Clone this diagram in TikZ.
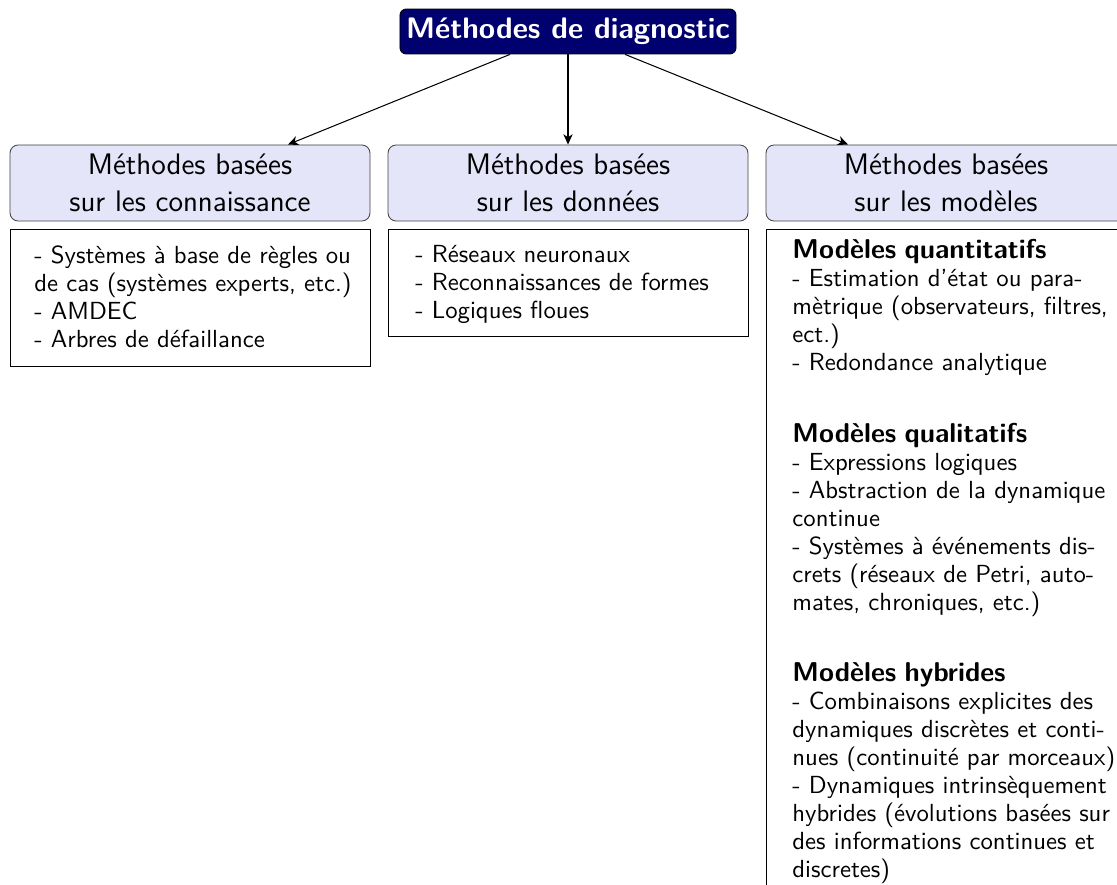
\documentclass[tikz,border=0pt]{standalone}
\usepackage{fontspec}
\newfontfamily\bodysf{lmsans10-regular}[Extension=.otf, BoldFont=lmsans10-bold]
\usetikzlibrary{arrows.meta,calc}
\definecolor{titleblue}{RGB}{0,0,110}
\definecolor{headfill}{RGB}{229,229,250}
\newcommand{\subhead}[1]{{\fontsize{13.2}{13.6}\selectfont\bfseries #1}}
\begin{document}
\begin{tikzpicture}[x=0.485pt,y=-0.485pt,
  titlebox/.style={draw=black, fill=titleblue, rounded corners=3pt, text=white,
    font={\sffamily\bfseries\fontsize{14.4}{18}\selectfont},
    minimum width=163pt, minimum height=21.8pt, inner sep=0pt},
  headbox/.style={draw=black!75, fill=headfill, rounded corners=4pt,
    minimum width=174.6pt, minimum height=36.9pt, inner sep=0pt, align=center,
    font={\sffamily\fontsize{14.4}{18}\selectfont}},
  bodybox/.style={draw=black, minimum width=174.6pt, inner sep=0pt, anchor=north west},
  bodytext/.style={anchor=north west, inner sep=0pt, text width=170pt, align=left,
    font={\bodysf\fontsize{12}{13.6}\selectfont}},
  link/.style={-{Stealth[length=5pt,width=4.5pt,inset=1.5pt]}, line width=0.5pt}
]
\useasboundingbox (0,0) rectangle (1117,885);
\clip (0,0) rectangle (1117,885);

\node[titlebox] (title) at (568,31.5) {Méthodes de diagnostic};

\node[headbox] (h1) at (190,183) {Méthodes basées\\sur les connaissance};
\node[headbox] (h2) at (568,183) {Méthodes basées\\sur les données};
\node[headbox] (h3) at (946,183) {Méthodes basées\\sur les modèles};

\node[bodybox, minimum height=66.4pt] (b1) at (10,229) {};
\node[bodybox, minimum height=51.9pt] (b2) at (388,229) {};
\node[bodybox, minimum height=340pt] (b3) at (766,229) {};

\node[bodytext] (t1) at ($(b1.north west)+(24,16)$) {- Systèmes à base de règles ou\\
de cas (systèmes experts, etc.)\\
- AMDEC\\
- Arbres de défaillance};

\node[bodytext] (t2) at ($(b2.north west)+(27,16)$) {- Réseaux neuronaux\\
- Reconnaissances de formes\\
- Logiques floues};

\node[bodytext] (t3) at ($(b3.north west)+(26,10)$) {\subhead{Modèles quantitatifs}\\
- Estimation d’état ou para-\\
mètrique (observateurs, filtres,\\
ect.)\\
- Redondance analytique\\[21pt]
\subhead{Modèles qualitatifs}\\
- Expressions logiques\\
- Abstraction de la dynamique\\
continue\\
- Systèmes à événements dis-\\
crets (réseaux de Petri, auto-\\
mates, chroniques, etc.)\\[21pt]
\subhead{Modèles hybrides}\\
- Combinaisons explicites des\\
dynamiques discrètes et conti-\\
nues (continuité par morceaux)\\
- Dynamiques intrinsèquement\\
hybrides (évolutions basées sur\\
des informations continues et\\
discretes)};

\draw[link] ($(title.south)+(-58,0)$) -- ($(h1.north)+(98,0)$);
\draw[link] (title.south) -- (h2.north);
\draw[link] ($(title.south)+(57,0)$) -- ($(h3.north)+(-98,0)$);
\end{tikzpicture}
\end{document}
